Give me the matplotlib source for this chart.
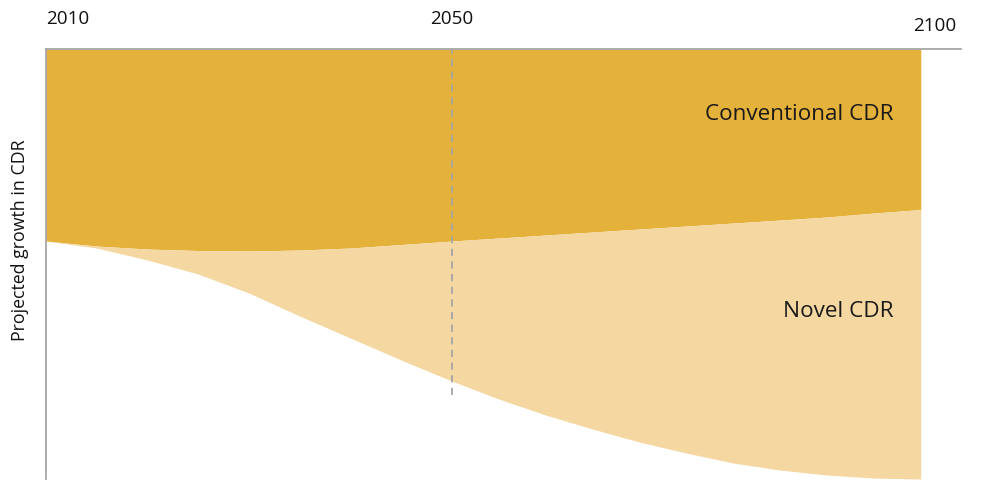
"""
Projected growth in CDR: conventional vs novel (schematic area chart)
"""
import numpy as np
import matplotlib.pyplot as plt

plt.rcParams['font.family'] = ['Open Sans', 'DejaVu Sans']

# ---------- data ----------
tick_years = [2010, 2050, 2100]
tick_pos   = [0.0, 0.464, 1.0]          # schematic (non-linear) time axis

years = [2010, 2015, 2020, 2025, 2030, 2035, 2040, 2045, 2050,
         2055, 2060, 2065, 2070, 2075, 2080, 2085, 2090, 2095, 2100]
# bottom of the novel band (total CDR) and the conventional/novel boundary
total = [238, 231, 219, 205, 186, 163, 141, 119, 98,
         80, 64, 50, 37, 26, 16, 9, 4, 1, 0]
conventional_edge = [238, 233, 230, 228.5, 228, 229, 231, 234.5, 238,
                     241, 244, 247, 250, 253, 256, 259, 262, 266, 269.5]
top = 430

c_conv  = "#E4B13A"
c_novel = "#F5D7A1"
grey    = "#A6A6A6"

fig = plt.figure(figsize=(10, 4.81), dpi=100)
ax = fig.add_axes([0.046, 0.002, 0.915, 0.894])

x = np.interp(years, tick_years, tick_pos)
ax.fill_between(x, conventional_edge, top, color=c_conv, lw=0)
ax.fill_between(x, total, conventional_edge, color=c_novel, lw=0)

x50 = np.interp(2050, tick_years, tick_pos)
ax.plot([x50, x50], [84, top], color=grey, lw=1.3, ls=(0, (4, 3)))

ax.set_xlim(0, 1.046)
ax.set_ylim(0, top)

for s in ["right", "bottom"]:
    ax.spines[s].set_visible(False)
for s in ["top", "left"]:
    ax.spines[s].set_color(grey)
    ax.spines[s].set_linewidth(1.3)
ax.set_xticks([]); ax.set_yticks([])

# year labels above the top spine
kw = dict(fontsize=13.6, color="#111111", clip_on=False)
ax.text(0.0, top + 31, "2010", ha="left", va="center", **kw)
ax.text(x50, top + 31, "2050", ha="center", va="center", **kw)
ax.text(1.041, top + 24, "2100", ha="right", va="center", **kw)

ax.text(0.969, 360, "Conventional CDR", ha="right", va="baseline",
        fontsize=16.2, color="#1a1a1a")
ax.text(0.969, 163, "Novel CDR", ha="right", va="baseline",
        fontsize=16.2, color="#1a1a1a")

fig.text(0.02, 0.5, "Projected growth in CDR", rotation=90,
         ha="center", va="center", fontsize=12.8, color="#111111")

fig.savefig("out.png", dpi=100)
